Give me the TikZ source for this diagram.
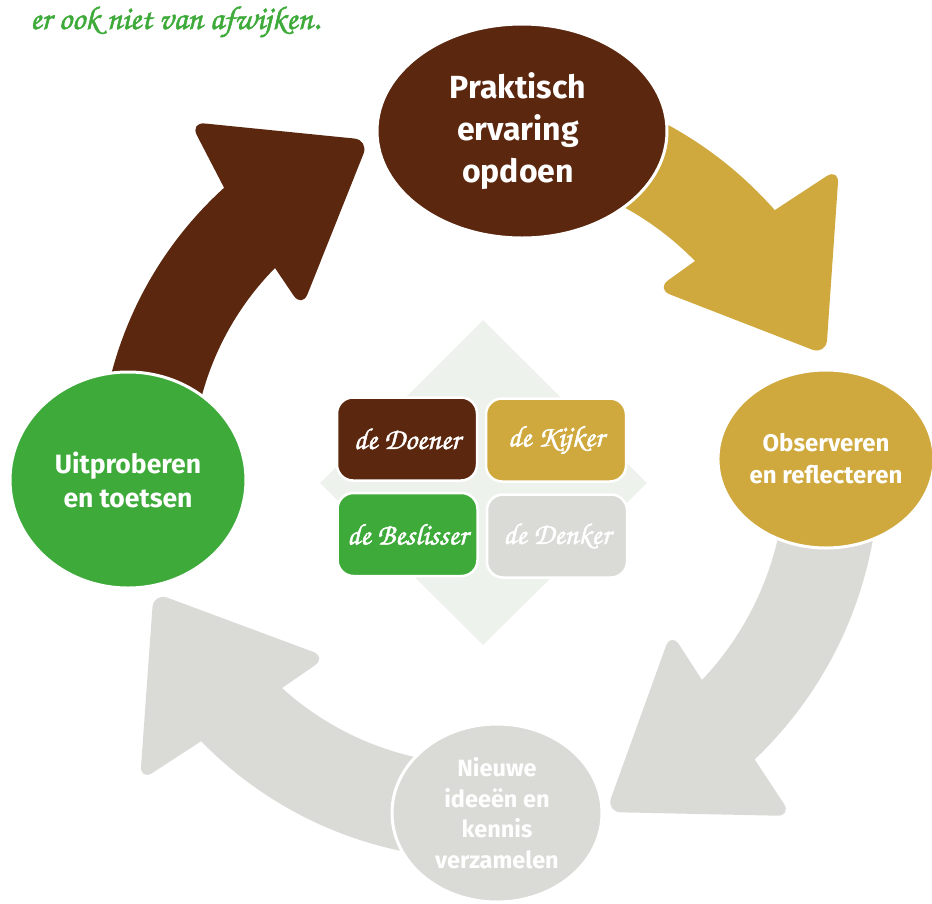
\documentclass[tikz,border=0pt]{standalone}
\usepackage{fontspec}
\setsansfont{Fira Sans}
\newfontfamily\scriptf[FakeBold=1.6]{TeX Gyre Chorus}
\usetikzlibrary{shapes.geometric}
\definecolor{cbrown}{HTML}{5B280F}
\definecolor{cgold}{HTML}{CFA93E}
\definecolor{cgreen}{HTML}{3DAA39}
\definecolor{cgray}{HTML}{DADAD6}
\definecolor{cdiamond}{HTML}{EEF2EC}
\tikzset{
  phase/.style={ellipse, inner sep=0pt, draw=white, line width=3pt, align=center,
    text=white, font=\sffamily\bfseries},
  rolebox/.style={rounded corners=16pt, draw=white, line width=2.5pt,
    minimum width=140pt, minimum height=83pt, inner sep=0pt, text=white,
    font=\scriptf\bfseries\fontsize{30}{32}\selectfont},
}
\begin{document}
\begin{tikzpicture}[x=1pt,y=-1pt]
\useasboundingbox (0,0) rectangle (932,903);
% central diamond
\fill[cdiamond] (483,320) -- (647,483) -- (483,645) -- (320,483) -- cycle;
% brown arrow (left -> top)
\fill[cbrown] (480,470) ++(191:381) arc[start angle=191,end angle=227.8,radius=381]
  [rounded corners=15pt] -- (190,122) -- (369,140) -- (302,308)
  [sharp corners] -- (275,268) arc[start angle=224.6,end angle=192,radius=288] -- cycle;
% gold arrow (top -> right)
\fill[cgold] (480,470) ++(295:393) arc[start angle=295,end angle=318.6,radius=393]
  [rounded corners=15pt] -- (839,168) -- (826,355) -- (656,289)
  [sharp corners] -- (695,261) arc[start angle=315.7,end angle=297,radius=300] -- cycle;
% gray arrow (right -> bottom)
\fill[cgray] (480,470) ++(5:399) arc[start angle=5,end angle=46.5,radius=399]
  [rounded corners=15pt] -- (792,816) -- (606,812) -- (671,632)
  [sharp corners] -- (702,680) arc[start angle=43.4,end angle=8,radius=306] -- cycle;
% gray arrow (bottom -> left)
\fill[cgray] (480,470) ++(97:389) arc[start angle=97,end angle=135.8,radius=389]
  [rounded corners=15pt] -- (140,781) -- (153.5,592.5) -- (327,657)
  [sharp corners] -- (282,688) arc[start angle=132.2,end angle=97,radius=294] -- cycle;
% phases
\node[phase, fill=cbrown, minimum width=290pt, minimum height=214pt,
  font=\sffamily\bfseries\fontsize{32}{42}\selectfont] (doen) at (522,131)
  {\hspace*{-8pt}Praktisch\\\hspace*{-8pt}ervaring\\\hspace*{-8pt}opdoen};
\node[phase, fill=cgold, minimum width=210pt, minimum height=178pt,
  font=\sffamily\bfseries\fontsize{24}{32}\selectfont] (obs) at (826,459)
  {Observeren\\en reflecteren};
\node[phase, fill=cgray, minimum width=210pt, minimum height=178pt,
  font=\sffamily\bfseries\fontsize{23.5}{30.5}\selectfont] (nieuw) at (497,813)
  {Nieuwe\\ideeën en\\kennis\\verzamelen};
\node[phase, fill=cgreen, minimum width=236pt, minimum height=216pt,
  font=\sffamily\bfseries\fontsize{26.5}{34}\selectfont] (uit) at (128,480)
  {Uitproberen\\en toetsen};
% role boxes
\node[rolebox, fill=cbrown] (doener) at (407,439) {de Doener};
\node[rolebox, fill=cgold] (kijker) at (556,440) {de Kijker};
\node[rolebox, fill=cgreen] (beslisser) at (407.5,534.5) {de Beslisser};
\node[rolebox, fill=cgray] (denker) at (557,536) {de Denker};
% intro text
\node[anchor=base west, inner sep=0pt, text=cgreen,
  font=\scriptf\bfseries\fontsize{33}{33}\selectfont] (intro) at (30,29) {er ook niet van afwijken.};
\end{tikzpicture}
\end{document}
